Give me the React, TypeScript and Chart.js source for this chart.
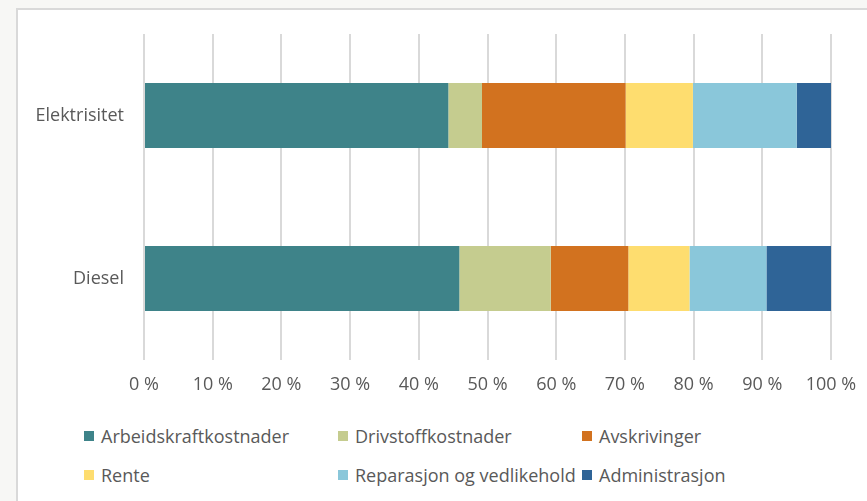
import React, { useEffect, useRef } from "react";
import { Chart, registerables } from "chart.js";

Chart.register(...registerables);

const categories = ["Elektrisitet", "Diesel"];
const seriesNames = [
  "Arbeidskraftkostnader",
  "Drivstoffkostnader",
  "Avskrivinger",
  "Rente",
  "Reparasjon og vedlikehold",
  "Administrasjon",
];
const arbeidskraft = [44.3, 45.9];
const drivstoff = [4.9, 13.3];
const avskrivinger = [20.9, 11.3];
const rente = [9.8, 8.9];
const reparasjon = [15.1, 11.2];
const administrasjon = [5.0, 9.4];
const seriesColors = ["#3E8389", "#C5CC8F", "#D2721F", "#FEDD6F", "#8AC7DA", "#2F6497"];
const xTicks = [0, 10, 20, 30, 40, 50, 60, 70, 80, 90, 100];

const FONT = "'Open Sans', sans-serif";
const TEXT = "#595959";

export default function App() {
  const ref = useRef<HTMLCanvasElement | null>(null);

  useEffect(() => {
    document.body.style.margin = "0";
    const values = [arbeidskraft, drivstoff, avskrivinger, rente, reparasjon, administrasjon];
    const chart = new Chart(ref.current as HTMLCanvasElement, {
      type: "bar",
      data: {
        labels: categories,
        datasets: seriesNames.map((name, i) => ({
          label: name,
          data: values[i],
          backgroundColor: seriesColors[i],
          borderWidth: 0,
          categoryPercentage: 0.8,
          barPercentage: 0.5,
        })),
      },
      options: {
        indexAxis: "y",
        animation: false,
        responsive: false,
        devicePixelRatio: 1,
        layout: { padding: { left: 0, right: 36, top: 34, bottom: 0 } },
        plugins: { legend: { display: false }, tooltip: { enabled: false } },
        scales: {
          x: {
            stacked: true,
            min: 0,
            max: 100,
            afterBuildTicks: (scale: any) => {
              scale.ticks = xTicks.map((v) => ({ value: v }));
            },
            afterFit: (scale: any) => {
              scale.height = 60;
              scale.paddingLeft = 0;
              scale.paddingRight = 0;
            },
            grid: { color: "#D9D9D9", lineWidth: 2, drawTicks: false },
            border: { display: false },
            ticks: {
              padding: 14,
              color: TEXT,
              font: { family: FONT, size: 18 },
              callback: (v: any) => `${v} %`,
            },
          },
          y: {
            stacked: true,
            afterFit: (scale: any) => {
              scale.width = 144;
              scale.paddingTop = 0;
              scale.paddingBottom = 0;
            },
            grid: { display: false, drawTicks: false },
            border: { display: false },
            ticks: {
              padding: 20,
              color: TEXT,
              font: { family: FONT, size: 18 },
            },
          },
        },
      },
    });
    return () => chart.destroy();
  }, []);

  const colX = [84, 338, 582];
  const rowY = [436, 475];

  return (
    <div
      style={{
        position: "fixed",
        left: 0,
        top: 0,
        width: 867,
        height: 501,
        background: "#F7F7F5",
        overflow: "hidden",
      }}
    >
      <div
        style={{
          position: "absolute",
          left: 16,
          top: 8,
          width: 900,
          height: 520,
          background: "#FFFFFF",
          borderLeft: "2px solid #D9D9D9",
          borderTop: "2px solid #D9D9D9",
        }}
      />
      <canvas
        ref={ref}
        width={867}
        height={420}
        style={{ position: "absolute", left: 0, top: 0, width: 867, height: 420 }}
      />
      {seriesNames.map((name, i) => (
        <div
          key={name}
          style={{
            position: "absolute",
            left: colX[i % 3],
            top: rowY[Math.floor(i / 3)] - 12,
            height: 24,
            display: "flex",
            alignItems: "center",
            fontFamily: FONT,
            fontSize: 18,
            color: TEXT,
            whiteSpace: "nowrap",
          }}
        >
          <span
            style={{
              display: "inline-block",
              width: 10,
              height: 10,
              background: seriesColors[i],
              marginRight: 7,
            }}
          />
          {name}
        </div>
      ))}
    </div>
  );
}
